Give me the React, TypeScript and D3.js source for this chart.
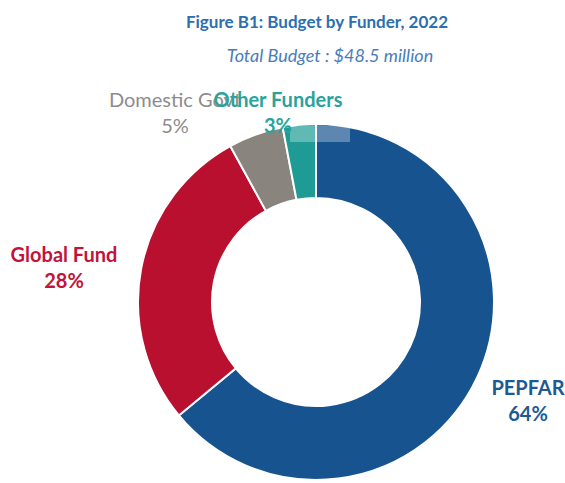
import React from "react";
import * as d3 from "d3";

const funders = ["PEPFAR", "Global Fund", "Domestic Govt", "Other Funders"];
const shares = [64, 28, 5, 3];
const colors = ["#17548f", "#b9102f", "#8a847f", "#1e9b94"];
const labelColors = ["#1d5a94", "#c0143a", "#8c8c8c", "#2aa39c"];
const labelPos: [number, number][] = [[528, 395], [64, 262], [175, 107], [278, 107]];

export default function App() {
  const W = 565, H = 483;
  const cx = 316, cy = 302, R = 178, r = 104;
  const pie = d3.pie<number>().sort(null).value((d) => d);
  const arcs = pie(shares);
  const arc = d3.arc<d3.PieArcDatum<number>>().innerRadius(r).outerRadius(R);
  const font = "Lato, 'Open Sans', sans-serif";
  return (
    <svg width={W} height={H} style={{ position: "absolute", left: 0, top: 0 }}>
      <rect width={W} height={H} fill="#fff" />
      <text x={317} y={28} textAnchor="middle" fontFamily={font} fontWeight="bold" fontSize={17} fill="#2c6fb0">
        Figure B1:  Budget by Funder, 2022
      </text>
      <text x={330} y={62} textAnchor="middle" fontFamily={font} fontStyle="italic" fontSize={18} fill="#4a7cba">
        Total Budget : $48.5 million
      </text>
      <g transform={`translate(${cx},${cy})`}>
        {arcs.map((a, i) => (
          <path key={i} d={arc(a) || ""} fill={colors[i]} stroke="#fff" strokeWidth={2} />
        ))}
      </g>
      <rect x={290} y={126} width={60} height={16} fill="#fff" opacity={0.3} />
      {funders.map((t, i) => (
        <g key={i} fontFamily={font} fontSize={20} fontWeight={i === 2 ? "normal" : "bold"} fill={labelColors[i]} textAnchor="middle">
          <text x={labelPos[i][0]} y={labelPos[i][1]}>{t}</text>
          <text x={labelPos[i][0]} y={labelPos[i][1] + 26}>{shares[i]}%</text>
        </g>
      ))}
    </svg>
  );
}
